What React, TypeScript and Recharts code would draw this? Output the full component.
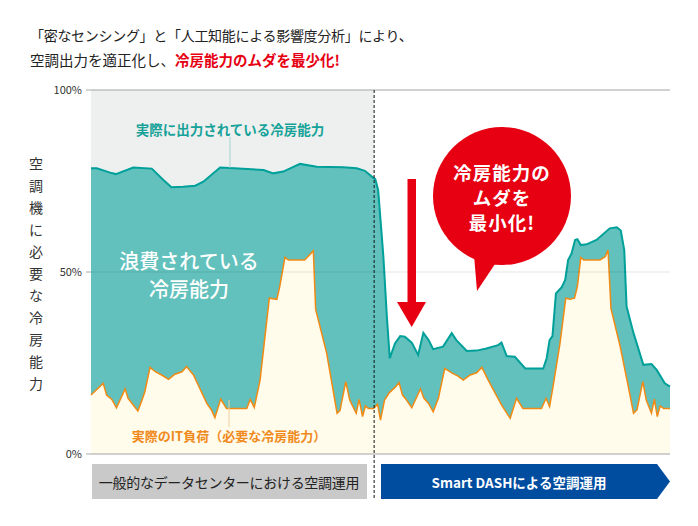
import { ComposedChart, Area, XAxis, YAxis, ReferenceArea, ReferenceLine } from "recharts";

// timeline position (0-100) and % of AC capacity
const capT = [0, 1.0, 3.3, 4.3, 7.3, 10.5, 12.5, 13.9, 15.9, 18.0, 19.4, 22.3, 24.0, 29.8, 31.5, 33.2, 36.1, 39.0, 43.6, 45.9, 47.3, 48.5, 49.1, 49.6, 50.5, 51.1, 51.6, 52.5, 53.4, 54.2, 55.4, 56.5, 57.4, 58.3, 59.1, 60.8, 62.3, 63.1, 64.9, 66.6, 68.3, 70.3, 70.9, 71.8, 73.2, 75.0, 78.1, 78.7, 79.2, 79.7, 80.3, 81.3, 81.9, 82.4, 83.0, 83.6, 84.0, 84.6, 85.6, 87.3, 89.6, 90.8, 91.5, 92.1, 92.5, 93.7, 95.4, 96.8, 97.7, 99.1, 100];
const capacity = [78.5, 78.5, 77.3, 76.9, 78.7, 78.4, 75.3, 73.3, 73.4, 73.7, 74.8, 78.7, 78.6, 78.0, 77.1, 77.6, 79.7, 78.9, 78.8, 78.5, 77.8, 76.2, 75.5, 72.5, 54.2, 37.7, 26.3, 30.4, 32.4, 32.2, 30.6, 27.2, 33.3, 31.3, 28.8, 29.5, 33.2, 31.3, 28.3, 28.4, 29.0, 29.9, 30.6, 26.9, 26.7, 23.5, 23.5, 26.3, 31.3, 32.4, 44.1, 45.8, 47.8, 53.3, 55.1, 58.8, 59.0, 57.4, 57.6, 58.8, 62.0, 62.3, 61.4, 56.0, 40.5, 33.2, 24.5, 24.7, 23.1, 19.4, 18.5];

const loadT = [0, 2.1, 2.7, 3.6, 4.4, 5.9, 6.4, 7.0, 8.1, 8.8, 9.3, 10.2, 11.1, 12.2, 13.4, 14.5, 15.7, 16.5, 17.7, 20.0, 20.8, 21.4, 22.4, 23.4, 26.9, 27.5, 28.2, 29.2, 30.8, 32.1, 32.6, 33.5, 34.1, 36.9, 38.4, 38.8, 40.7, 42.5, 43.0, 44.0, 44.7, 45.8, 46.3, 46.9, 47.4, 47.9, 48.8, 49.5, 50.0, 50.7, 51.5, 52.5, 53.2, 53.8, 54.5, 55.4, 56.9, 57.5, 58.3, 59.1, 60.0, 61.1, 62.3, 63.4, 64.3, 65.5, 66.6, 67.5, 68.6, 70.9, 72.4, 73.5, 74.6, 77.8, 78.6, 79.2, 79.8, 81.0, 82.0, 82.7, 83.5, 84.0, 84.6, 85.1, 87.9, 88.8, 89.3, 89.8, 91.4, 92.8, 93.7, 94.3, 95.3, 95.9, 96.8, 97.3, 97.8, 98.3, 98.9, 100];
const itLoad = [16.2, 19.4, 16.2, 15.0, 12.7, 17.9, 15.3, 14.1, 11.8, 14.8, 17.1, 23.8, 22.6, 21.7, 20.5, 21.9, 22.6, 24.0, 21.7, 13.9, 12.1, 10.0, 15.1, 12.5, 12.5, 15.0, 12.8, 20.3, 42.8, 42.5, 46.0, 54.0, 53.3, 53.3, 55.8, 39.7, 27.7, 11.2, 11.9, 19.9, 14.8, 11.2, 15.0, 10.3, 13.2, 12.5, 12.5, 13.7, 9.3, 14.8, 16.8, 18.3, 19.6, 16.2, 14.8, 12.7, 17.9, 15.3, 13.9, 11.6, 15.3, 23.5, 22.3, 21.4, 20.3, 21.7, 22.3, 23.8, 20.3, 13.5, 9.8, 15.3, 12.5, 12.5, 15.3, 13.0, 18.5, 30.4, 42.8, 42.5, 42.8, 46.0, 54.0, 53.3, 53.3, 54.2, 56.0, 40.0, 29.5, 18.5, 11.2, 12.1, 19.9, 14.8, 11.2, 15.1, 10.3, 13.2, 12.5, 12.5];

const yTicks = [0, 50, 100];
const switchT = 48.9;

const title1 = "「密なセンシング」と「人工知能による影響度分析」により、";
const title2a = "空調出力を適正化し、";
const title2b = "冷房能力のムダを最少化!";
const yLabel = "空調機に必要な冷房能力";
const capLabel = "実際に出力されている冷房能力";
const loadLabel = "実際のIT負荷（必要な冷房能力）";
const wasteLabel = ["浪費されている", "冷房能力"];
const bubbleLabel = ["冷房能力の", "ムダを", "最小化!"];
const phaseLabels = ["一般的なデータセンターにおける空調運用", "Smart DASHによる空調運用"];

type Row = { t: number; cap: number | null; load: number | null };

function buildRows(): Row[] {
  const map = new Map<number, Row>();
  capT.forEach((t, i) => {
    const r = map.get(t) ?? { t, cap: null, load: null };
    r.cap = capacity[i];
    map.set(t, r);
  });
  loadT.forEach((t, i) => {
    const r = map.get(t) ?? { t, cap: null, load: null };
    r.load = itLoad[i];
    map.set(t, r);
  });
  return [...map.values()].sort((a, b) => a.t - b.t);
}

const rows = buildRows();
const FONT = '"Noto Sans CJK JP", "Noto Sans", sans-serif';

export default function App() {
  return (
    <div style={{ position: "absolute", left: 0, top: 0, width: 698, height: 526, background: "#fff", fontFamily: FONT }}>
      <ComposedChart width={698} height={526} data={rows} margin={{ top: 90, right: 28, bottom: 72, left: 60 }}>
        <XAxis type="number" dataKey="t" domain={[0, 100]} hide />
        <YAxis
          type="number"
          domain={[0, 100]}
          ticks={yTicks}
          width={31}
          axisLine={false}
          tickLine={{ stroke: "#aaa" }}
          tickSize={5}
          tickMargin={4}
          tickFormatter={(v: number) => `${v}%`}
          tick={{ fontSize: 11, fill: "#333", fontFamily: FONT }}
        />
        <ReferenceArea x1={0} x2={switchT} y1={0} y2={100} fill="#eef0ef" fillOpacity={1} stroke="none" />
        <Area type="linear" dataKey="cap" connectNulls stroke="#00a09a" strokeWidth={2} fill="#62c1bc" fillOpacity={1} isAnimationActive={false} dot={false} activeDot={false} />
        <Area type="linear" dataKey="load" connectNulls stroke="#f18a14" strokeWidth={1.5} fill="#fffcec" fillOpacity={1} isAnimationActive={false} dot={false} activeDot={false} />
        <ReferenceLine y={50} stroke="rgba(0,0,0,0.1)" />
        <ReferenceLine y={100} stroke="#a3a3a3" />
        <ReferenceLine y={0} stroke="#a3a3a3" />
        <ReferenceLine
          segment={[{ x: switchT, y: 100 }, { x: switchT, y: -12.5 }]}
          ifOverflow="visible"
          stroke="#111"
          strokeDasharray="3 2"
        />
      </ComposedChart>

      <svg width={698} height={526} style={{ position: "absolute", left: 0, top: 0, pointerEvents: "none" }}>
        {/* title */}
        <text x={30} y={41} fontSize={14} fill="#222" letterSpacing={-0.3}>{title1}</text>
        <text x={30} y={66} fontSize={14.5} fill="#222">
          {title2a}
          <tspan fill="#e60012" fontWeight="bold">{title2b}</tspan>
        </text>

        {/* vertical axis label */}
        {[...yLabel].map((c, i) => (
          <text key={i} x={36} y={163 + i * 22} fontSize={14} fill="#333" textAnchor="middle" dominantBaseline="central">{c}</text>
        ))}

        {/* series labels */}
        <line x1={230} y1={137} x2={230} y2={168} stroke="#a5d5d1" />
        <text x={230} y={129} fontSize={13.5} fontWeight="bold" fill="#16a299" textAnchor="middle" dominantBaseline="central">{capLabel}</text>
        <line x1={229} y1={400} x2={229} y2={427} stroke="#efcf9f" />
        <text x={229} y={435} fontSize={13} fontWeight="bold" fill="#f08a1c" textAnchor="middle" dominantBaseline="central">{loadLabel}</text>
        {wasteLabel.map((s, i) => (
          <text key={i} x={189} y={260 + i * 28} fontSize={20} fontWeight={500} fill="#fff" textAnchor="middle" dominantBaseline="central">{s}</text>
        ))}

        {/* arrow */}
        <rect x={407.5} y={179} width={8.5} height={124} fill="#e60012" />
        <polygon points="397,302 426,302 411.7,327" fill="#e60012" />

        {/* bubble */}
        <circle cx={502} cy={196} r={69} fill="#e60012" />
        <polygon points="474,255 477,291 499,258" fill="#e60012" />
        {bubbleLabel.map((s, i) => (
          <text key={i} x={502} y={172 + i * 25} fontSize={18.5} letterSpacing={1} fontWeight="bold" fill="#fff" textAnchor="middle" dominantBaseline="central">{s}</text>
        ))}

        {/* phase labels */}
        <rect x={92} y={464} width={275} height={35} fill="#c9c9c9" />
        <text x={229} y={482} fontSize={14} fill="#222" textAnchor="middle" dominantBaseline="central" letterSpacing={-0.3}>{phaseLabels[0]}</text>
        <polygon points="381,464 657,464 670,481.5 657,499 381,499" fill="#004da0" />
        <text x={519} y={482} fontSize={13.5} fontWeight="bold" fill="#fff" textAnchor="middle" dominantBaseline="central">{phaseLabels[1]}</text>
      </svg>
    </div>
  );
}
